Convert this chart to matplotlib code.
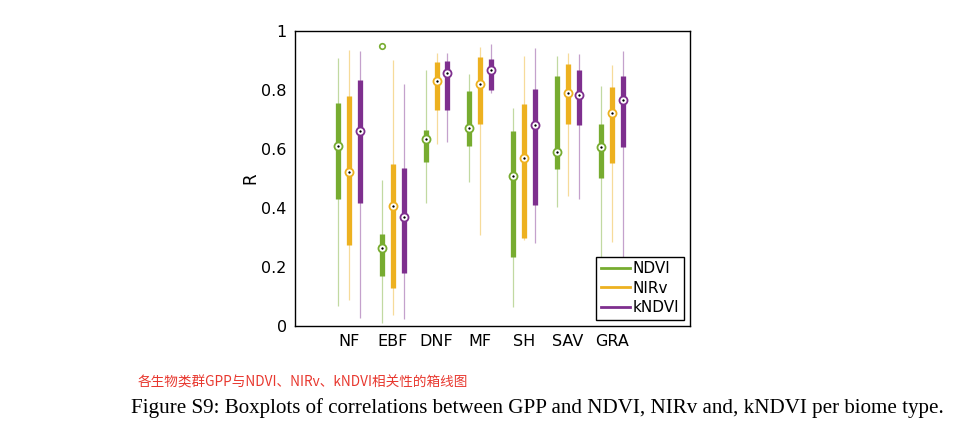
import matplotlib
matplotlib.use("Agg")
import matplotlib.pyplot as plt
from matplotlib.lines import Line2D
import numpy as np

biomes = ["NF", "EBF", "DNF", "MF", "SH", "SAV", "GRA"]
series = ["NDVI", "NIRv", "kNDVI"]
colors = ["#77AC30", "#EDB120", "#7E2F8E"]

# each: [whisker_low, q1, median, q3, whisker_high]
ndvi = [
    [0.068, 0.429, 0.611, 0.757, 0.907],
    [0.009, 0.169, 0.263, 0.313, 0.495],
    [0.416, 0.557, 0.635, 0.664, 0.868],
    [0.489, 0.611, 0.672, 0.798, 0.854],
    [0.064, 0.233, 0.508, 0.662, 0.740],
    [0.402, 0.531, 0.589, 0.849, 0.915],
    [0.150, 0.501, 0.608, 0.684, 0.814],
]
nirv = [
    [0.088, 0.273, 0.522, 0.780, 0.936],
    [0.037, 0.130, 0.408, 0.549, 0.902],
    [0.617, 0.732, 0.830, 0.894, 0.927],
    [0.308, 0.684, 0.821, 0.913, 0.947],
    [0.290, 0.298, 0.568, 0.753, 0.915],
    [0.442, 0.684, 0.789, 0.888, 0.927],
    [0.286, 0.551, 0.721, 0.809, 0.885],
]
kndvi = [
    [0.026, 0.416, 0.661, 0.834, 0.933],
    [0.023, 0.179, 0.368, 0.537, 0.820],
    [0.625, 0.732, 0.858, 0.899, 0.924],
    [0.790, 0.800, 0.867, 0.906, 0.956],
    [0.281, 0.409, 0.680, 0.802, 0.941],
    [0.429, 0.681, 0.784, 0.868, 0.922],
    [0.200, 0.606, 0.766, 0.849, 0.933],
]
# outliers: (biome index, series index, value)
outliers = [(1, 0, 0.949)]

fig = plt.figure(figsize=(9.6, 4.3), dpi=100)
ax = fig.add_axes([0.3073, 0.2419, 0.4115, 0.6860])

pos = np.arange(1, len(biomes) + 1)
offsets = [-0.25, 0.0, 0.25]
for s, (data, col, off) in enumerate(zip([ndvi, nirv, kndvi], colors, offsets)):
    d = np.array(data)
    x = pos + off
    ax.vlines(x, d[:, 0], d[:, 4], color=col, lw=0.9, alpha=0.45, zorder=2)
    ax.vlines(x, d[:, 1], d[:, 3], color=col, lw=3.8, zorder=3)
    ax.plot(x, d[:, 2], ls="none", marker="o", ms=5.8, mfc="white", mec=col, mew=1.3, zorder=4)
    ax.plot(x, d[:, 2], ls="none", marker="o", ms=1.3, mfc="black", mec="black", mew=0.3, zorder=5)

for bi, si, v in outliers:
    ax.plot(pos[bi] + offsets[si], v, ls="none", marker="o", ms=4, mfc="white",
            mec=colors[si], mew=1.2, zorder=4)

ax.set_xlim(-0.233, 8.79)
ax.set_ylim(0, 1)
ax.set_xticks(pos)
ax.set_xticklabels(biomes, fontsize=11.5)
ax.set_yticks([0, 0.2, 0.4, 0.6, 0.8, 1])
ax.set_yticklabels(["0", "0.2", "0.4", "0.6", "0.8", "1"], fontsize=11.5)
ax.tick_params(length=0, pad=6)
ax.set_ylabel("R", fontsize=12, labelpad=1)
for sp in ax.spines.values():
    sp.set_linewidth(1.0)
    sp.set_color("black")

handles = [Line2D([0], [0], color=c, lw=2) for c in colors]
leg = ax.legend(handles, series, loc="lower right", fontsize=11, frameon=True,
                fancybox=False, edgecolor="black", framealpha=1,
                handlelength=1.9, handletextpad=0.2, borderpad=0.3,
                labelspacing=0.3, borderaxespad=0.4)
leg.get_frame().set_linewidth(1.0)

fig.text(138 / 960, 1 - 383 / 430, "各生物类群GPP与NDVI、NIRv、kNDVI相关性的箱线图",
         fontsize=9.8, color="#E8382F", va="center", ha="left",
         family=["Noto Sans CJK SC", "DejaVu Sans"])
fig.text(537 / 960, 1 - 408 / 430,
         "Figure S9: Boxplots of correlations between GPP and NDVI, NIRv and, kNDVI per biome type.",
         fontsize=15.1, color="black", va="center", ha="center", family="Liberation Serif")

fig.savefig("out.png", dpi=100)
